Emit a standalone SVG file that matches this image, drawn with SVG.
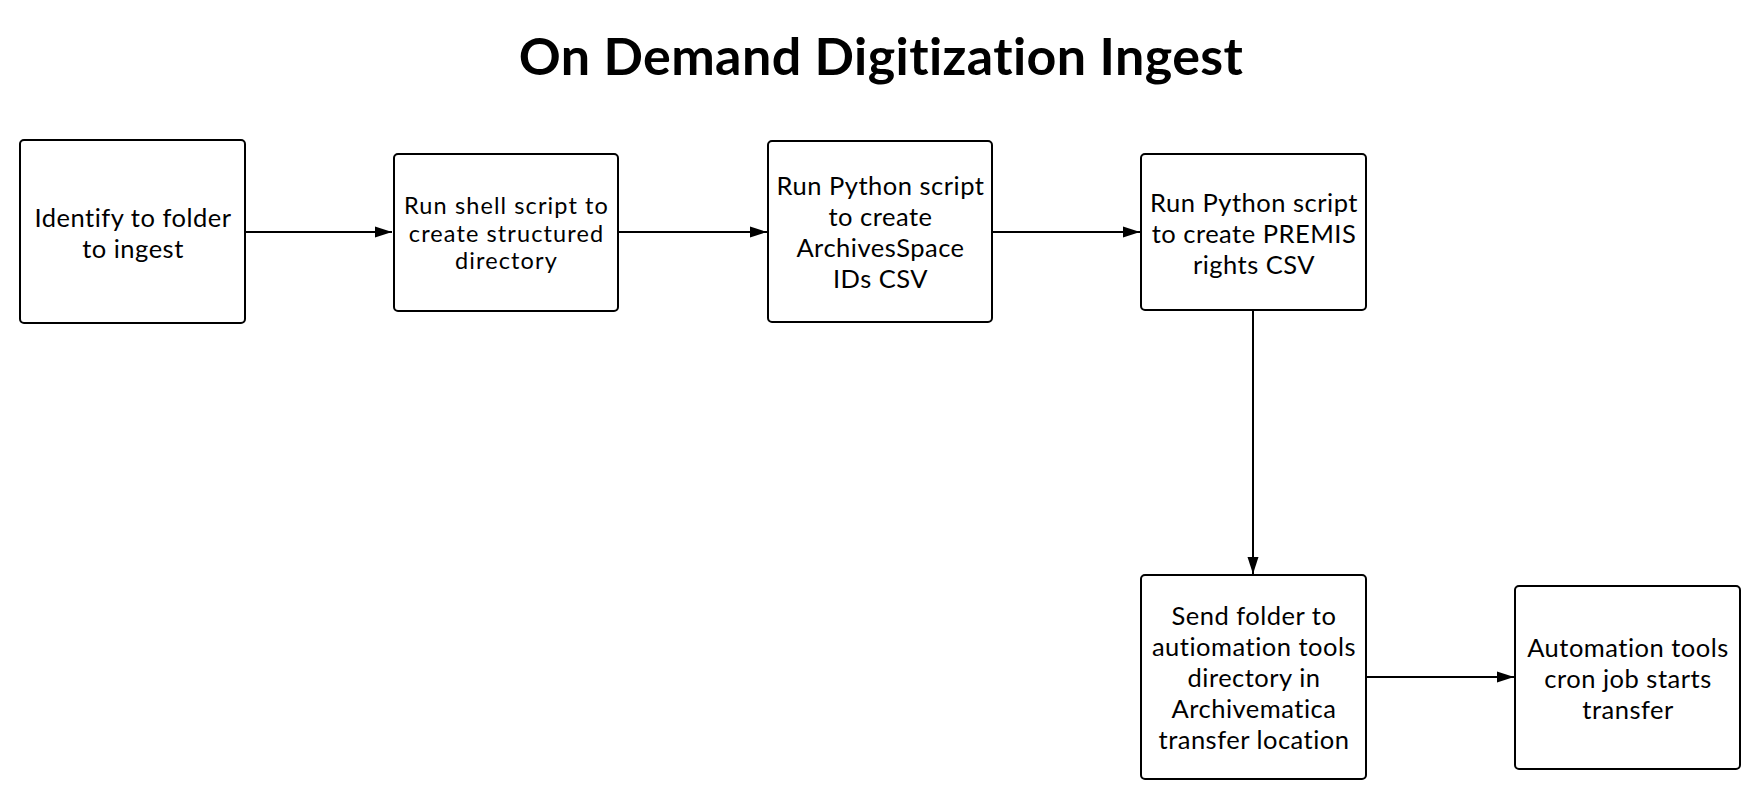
<svg xmlns="http://www.w3.org/2000/svg" width="1760" height="800" viewBox="0 0 1760 800">
<style>
.box{fill:#fff;stroke:#000;stroke-width:2}
.t{font-family:Lato,"Liberation Sans",sans-serif;font-size:25.5px;letter-spacing:0.5px;fill:#000;text-anchor:middle}
.t2{font-family:Lato,"Liberation Sans",sans-serif;font-size:23.5px;letter-spacing:1.1px;fill:#000;text-anchor:middle}
.title{font-family:Lato,"Liberation Sans",sans-serif;font-size:52px;letter-spacing:0.4px;font-weight:bold;fill:#000;text-anchor:middle}
.c{fill:none;stroke:#000;stroke-width:2}
</style>
<defs>
<marker id="ah" markerUnits="userSpaceOnUse" markerWidth="18" markerHeight="12" refX="17" refY="6" orient="auto">
<path d="M0,0.5 L17,6 L0,11.5 z" fill="#000"/>
</marker>
</defs>
<rect width="1760" height="800" fill="#fff"/>
<text class="title" x="881" y="75">On Demand Digitization Ingest</text>
<g id="connectors">
<line class="c" x1="245" y1="232" x2="392" y2="232" marker-end="url(#ah)"/>
<line class="c" x1="618" y1="232" x2="767" y2="232" marker-end="url(#ah)"/>
<line class="c" x1="992" y1="232" x2="1140" y2="232" marker-end="url(#ah)"/>
<line class="c" x1="1253" y1="310" x2="1253" y2="574" marker-end="url(#ah)"/>
<line class="c" x1="1366" y1="677" x2="1514" y2="677" marker-end="url(#ah)"/>
</g>
<g id="n1">
<rect class="box" x="20" y="140" width="225" height="183" rx="4"/>
<text class="t" x="133" y="227">Identify to folder</text>
<text class="t" x="133" y="258">to ingest</text>
</g>
<g id="n2">
<rect class="box" x="394" y="154" width="224" height="157" rx="4"/>
<text class="t2" x="506.5" y="214">Run shell script to</text>
<text class="t2" x="506.5" y="241.5">create structured</text>
<text class="t2" x="506.5" y="269">directory</text>
</g>
<g id="n3">
<rect class="box" x="768" y="141" width="224" height="181" rx="4"/>
<text class="t" x="880.5" y="195">Run Python script</text>
<text class="t" x="880.5" y="226">to create</text>
<text class="t" x="880.5" y="257">ArchivesSpace</text>
<text class="t" x="880.5" y="288">IDs CSV</text>
</g>
<g id="n4">
<rect class="box" x="1141" y="154" width="225" height="156" rx="4"/>
<text class="t" x="1254" y="211.5">Run Python script</text>
<text class="t" x="1254" y="242.5">to create PREMIS</text>
<text class="t" x="1254" y="273.5">rights CSV</text>
</g>
<g id="n5">
<rect class="box" x="1141" y="575" width="225" height="204" rx="4"/>
<text class="t" x="1254" y="625">Send folder to</text>
<text class="t" x="1254" y="656">autiomation tools</text>
<text class="t" x="1254" y="687">directory in</text>
<text class="t" x="1254" y="718">Archivematica</text>
<text class="t" x="1254" y="749">transfer location</text>
</g>
<g id="n6">
<rect class="box" x="1515" y="586" width="225" height="183" rx="4"/>
<text class="t" x="1628" y="657">Automation tools</text>
<text class="t" x="1628" y="688">cron job starts</text>
<text class="t" x="1628" y="719">transfer</text>
</g>
</svg>
